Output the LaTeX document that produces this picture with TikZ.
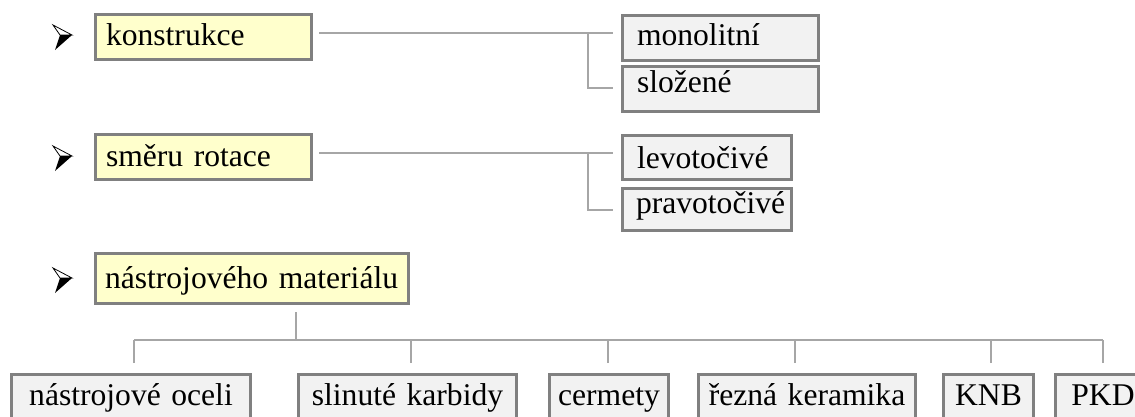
\documentclass[tikz,border=0pt]{standalone}
\usepackage{fontspec}
\setmainfont{Liberation Serif}
\usetikzlibrary{calc}
\definecolor{bordergray}{HTML}{808080}
\definecolor{linegray}{HTML}{A6A6A6}
\definecolor{yellowfill}{HTML}{FFFFCC}
\definecolor{grayfill}{HTML}{F2F2F2}
\newcommand\tbox[9]{% name, style, left, top, right, bottom, baseline, textx, text
  \pgfmathsetmacro\tbbw{#5-#3-3}%
  \pgfmathsetmacro\tbbxs{#8-#3-1.5}%
  \pgfmathsetmacro\tbbtw{\tbbw-2*\tbbxs}%
  \pgfmathsetmacro\tbbth{#7-#4-1.5}%
  \pgfmathsetmacro\tbbtd{#6-#4-3-\tbbth}%
  \node[#2, text width=\tbbtw pt, inner xsep=\tbbxs pt, text height=\tbbth pt, text depth=\tbbtd pt] (#1) at (#3,#4) {#9};%
}
\newcommand\wbullet[2]{% tip x, tip y
  \begin{scope}[shift={(#1,#2)}]
    \filldraw[fill=white, draw=black, line width=0.8pt, line join=miter] (-19,-10) -- (0,0) -- (-12,0) -- cycle;
    \fill[black] (-12,0) -- (0,0) -- (-17,15) -- cycle;
  \end{scope}
}
\tikzset{
  box/.style={draw=bordergray, line width=3pt, inner ysep=0pt, anchor=north west,
    font=\fontsize{31.6}{36}\selectfont},
  topbox/.style={box, fill=yellowfill, align=left},
  subbox/.style={box, fill=grayfill, align=left},
  botbox/.style={box, fill=grayfill, align=center},
  conn/.style={draw=linegray, line width=1.5pt},
}
\begin{document}
\begin{tikzpicture}[x=1pt, y=-1pt]
\useasboundingbox (0,0) rectangle (1135,416);
\clip (0,0) rectangle (1135,416);

% bullets
\wbullet{72}{35}
\wbullet{72}{156}
\wbullet{72}{278}

% top-level boxes
\tbox{konstrukce}{topbox}{94}{13}{313}{61}{45}{106}{konstrukce}
\tbox{rotace}{topbox}{94}{133}{313}{181}{166}{106}{směru rotace}
\tbox{material}{topbox}{94}{252}{410}{305}{288}{105}{nástrojového materiálu}

% sub boxes
\tbox{monolitni}{subbox}{621}{14}{820}{62}{45}{637}{monolitní}
\tbox{slozene}{subbox}{621}{65}{820}{113}{92}{637}{složené}
\tbox{levo}{subbox}{621}{134}{793}{181}{168}{637}{levotočivé}
\tbox{pravo}{subbox}{621}{187}{793}{232}{213}{636}{pravotočivé}

% bottom boxes
\tbox{n1}{botbox}{10}{373}{252}{440}{405}{16.5}{nástrojové oceli}
\tbox{n2}{botbox}{297}{373}{518}{440}{405}{303.5}{slinuté karbidy}
\tbox{n3}{botbox}{548}{373}{670}{440}{405}{554.5}{cermety}
\tbox{n4}{botbox}{697}{373}{917}{440}{405}{703.5}{řezná keramika}
\tbox{n5}{botbox}{942}{373}{1035}{440}{405}{948.5}{KNB}
\tbox{n6}{botbox}{1054}{373}{1152}{440}{405}{1060.5}{PKD}

% connectors group 1
\coordinate (ja) at (588,33);
\draw[conn] ($(konstrukce.east)+(6,-4)$) -- ($(monolitni.west)+(-8,-5)$);
\draw[conn] (ja) |- ($(slozene.west)+(-8,-1)$);

% connectors group 2
\coordinate (jb) at (588,153);
\draw[conn] ($(rotace.east)+(6,-4)$) -- ($(levo.west)+(-8,-4.5)$);
\draw[conn] (jb) |- ($(pravo.west)+(-8,0.5)$);

% connectors group 3
\draw[conn] ($(material.south)+(44,7)$) -- ($(material.south)+(44,35)$);
\draw[conn] ($(n1.north)+(3,-33)$) -- ($(n6.north)+(0,-33)$);
\draw[conn] ($(n1.north)+(3,-10)$) -- ++(0,-23);
\draw[conn] ($(n2.north)+(3.5,-10)$) -- ++(0,-23);
\draw[conn] ($(n3.north)+(-1,-10)$) -- ++(0,-23);
\draw[conn] ($(n4.north)+(-12,-10)$) -- ++(0,-23);
\draw[conn] ($(n5.north)+(2.5,-10)$) -- ++(0,-23);
\draw[conn] ($(n6.north)+(0,-10)$) -- ++(0,-23);
\end{tikzpicture}
\end{document}
